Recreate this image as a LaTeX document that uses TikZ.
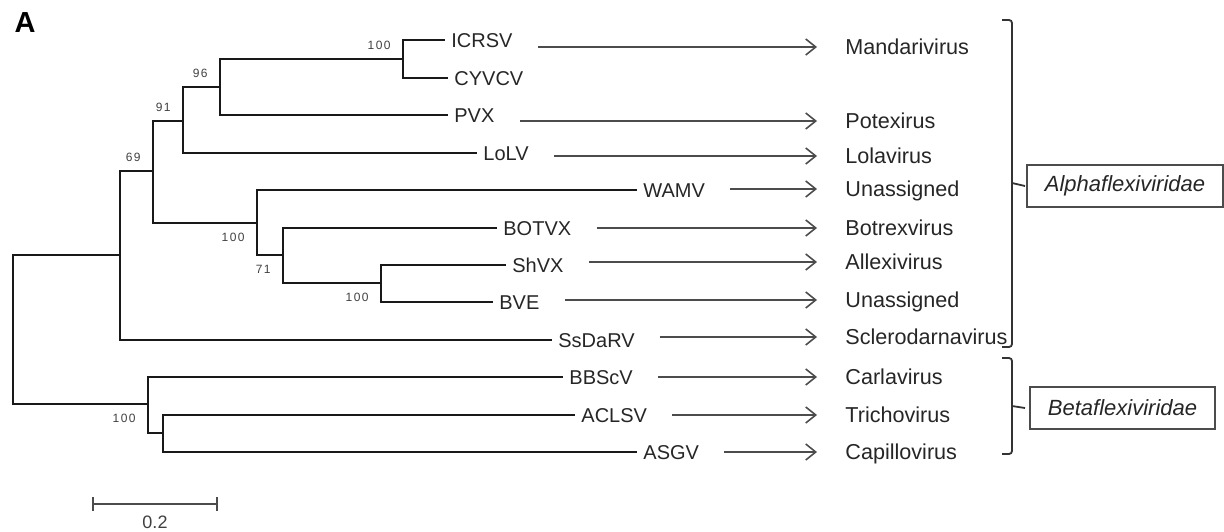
\documentclass[tikz,border=0pt]{standalone}
\usepackage{fontspec}
\setmainfont{Liberation Sans}
\newfontfamily\bootfont[LetterSpace=12]{Liberation Sans}
\usetikzlibrary{arrows.meta}

\begin{document}
\begin{tikzpicture}[x=0.5pt, y=-0.5pt,
  tree/.style={line width=1.4pt, black!90},
  taxon/.style={anchor=west, inner sep=3pt, text=black!85, font=\fontsize{10}{12}\selectfont, text height=7.2pt, text depth=0pt},
  genus/.style={anchor=west, inner sep=3pt, text=black!85, font=\fontsize{10.8}{13}\selectfont, text height=7.7pt, text depth=0pt},
  link/.style={-{Straight Barb[length=5pt, width=8pt]}, line width=0.8pt, black!70, shorten <=9.5pt, shorten >=11pt},
  boot/.style={inner sep=1pt, text=black!75, font=\bootfont\fontsize{6}{7}\selectfont},
  bootup/.style={boot, anchor=south east, xshift=-5pt, yshift=3.5pt},
  bootdown/.style={boot, anchor=north east, xshift=-5pt, yshift=-4pt},
  bracket/.style={line width=0.9pt, black!80, rounded corners=1.5pt},
  family/.style={draw=black!70, line width=0.7pt, minimum height=21pt, inner xsep=9pt, text=black!85, font=\itshape\fontsize{11}{13}\selectfont},
  scalebar/.style={{Bar[width=7pt]}-{Bar[width=7pt]}, line width=0.8pt, black!70}
]
\useasboundingbox (0,0) rectangle (1224,531);

% Panel letter
\node[font=\bfseries\fontsize{14.5}{16}\selectfont] (panelA) at (25,23) {A};

% Internal nodes of the tree
\coordinate (root) at (13,330);
\coordinate (nA) at (120,255);
\coordinate (nB) at (153,171);
\coordinate (nC) at (183,121);
\coordinate (nD) at (220,87);
\coordinate (nE) at (403,59);
\coordinate (nF) at (257,223);
\coordinate (nG) at (283,255);
\coordinate (nH) at (381,283);
\coordinate (nBeta) at (148,404);
\coordinate (nI) at (163,433);

% Virus taxa
\node[taxon] (icrsv) at (445,40) {ICRSV};
\node[taxon] (cyvcv) at (448,78) {CYVCV};
\node[taxon] (pvx) at (448,115) {PVX};
\node[taxon] (lolv) at (477,153) {LoLV};
\node[taxon] (wamv) at (637,190) {WAMV};
\node[taxon] (botvx) at (497,228) {BOTVX};
\node[taxon] (shvx) at (506,265) {ShVX};
\node[taxon] (bve) at (493,302) {BVE};
\node[taxon] (ssdarv) at (552,340) {SsDaRV};
\node[taxon] (bbscv) at (563,377) {BBScV};
\node[taxon] (aclsv) at (575,415) {ACLSV};
\node[taxon] (asgv) at (637,452) {ASGV};

% Branches
\draw[tree] (root) |- (nA);
\draw[tree] (root) |- (nBeta);
\draw[tree] (nA) |- (nB);
\draw[tree] (nA) |- (ssdarv.west);
\draw[tree] (nB) |- (nC);
\draw[tree] (nB) |- (nF);
\draw[tree] (nC) |- (nD);
\draw[tree] (nC) |- (lolv.west);
\draw[tree] (nD) |- (nE);
\draw[tree] (nD) |- (pvx.west);
\draw[tree] (nE) |- (icrsv.west);
\draw[tree] (nE) |- (cyvcv.west);
\draw[tree] (nF) |- (wamv.west);
\draw[tree] (nF) |- (nG);
\draw[tree] (nG) |- (botvx.west);
\draw[tree] (nG) |- (nH);
\draw[tree] (nH) |- (shvx.west);
\draw[tree] (nH) |- (bve.west);
\draw[tree] (nBeta) |- (bbscv.west);
\draw[tree] (nBeta) |- (nI);
\draw[tree] (nI) |- (aclsv.west);
\draw[tree] (nI) |- (asgv.west);

% Bootstrap values
\node[bootup] (bE) at (nE) {100};
\node[bootup] (bD) at (nD) {96};
\node[bootup] (bC) at (nC) {91};
\node[bootup] (bB) at (nB) {69};
\node[bootdown] (bF) at (nF) {100};
\node[bootdown] (bG) at (nG) {71};
\node[bootdown] (bH) at (nH) {100};
\node[bootdown] (bBeta) at (nBeta) {100};

% Genera
\node[genus] (mandari) at (839,47) {Mandarivirus};
\node[genus] (potex) at (839,121) {Potexirus};
\node[genus] (lola) at (839,156) {Lolavirus};
\node[genus] (unasgA) at (839,189) {Unassigned};
\node[genus] (botrex) at (839,228) {Botrexvirus};
\node[genus] (allexi) at (839,262) {Allexivirus};
\node[genus] (unasgB) at (839,300) {Unassigned};
\node[genus] (sclero) at (839,337) {Sclerodarnavirus};
\node[genus] (carla) at (839,377) {Carlavirus};
\node[genus] (tricho) at (839,415) {Trichovirus};
\node[genus] (capillo) at (839,452) {Capillovirus};

\draw[link] (icrsv.east |- mandari.west) -- (mandari.west);
\draw[link] (pvx.east |- potex.west) -- (potex.west);
\draw[link] (lolv.east |- lola.west) -- (lola.west);
\draw[link] (wamv.east |- unasgA.west) -- (unasgA.west);
\draw[link] (botvx.east |- botrex.west) -- (botrex.west);
\draw[link] (shvx.east |- allexi.west) -- (allexi.west);
\draw[link] (bve.east |- unasgB.west) -- (unasgB.west);
\draw[link] (ssdarv.east |- sclero.west) -- (sclero.west);
\draw[link] (bbscv.east |- carla.west) -- (carla.west);
\draw[link] (aclsv.east |- tricho.west) -- (tricho.west);
\draw[link] (asgv.east |- capillo.west) -- (capillo.west);

% Families
\node[family] (alpha) at (1125,186) {Alphaflexiviridae};
\node[family] (beta) at (1122.5,408) {Betaflexiviridae};

\coordinate (alphamid) at (1012,183);
\coordinate (betamid) at (1012,406);
\draw[bracket] (1002,20) -- (1012,20) -- (1012,347) -- (1002,347);
\draw[bracket] (1002,358) -- (1012,358) -- (1012,454) -- (1002,454);
\draw[bracket] (alphamid) -- (alpha.west -| 1025,0);
\draw[bracket] (betamid) -- (beta.west -| 1025,0);

% Scale bar
\coordinate (sbl) at (92,504);
\coordinate (sbr) at (218,504);
\draw[scalebar] (sbl) -- (sbr);
\node[text=black!75, font=\fontsize{9}{10}\selectfont] (sbtext) at (155,522) {0.2};
\end{tikzpicture}
\end{document}
